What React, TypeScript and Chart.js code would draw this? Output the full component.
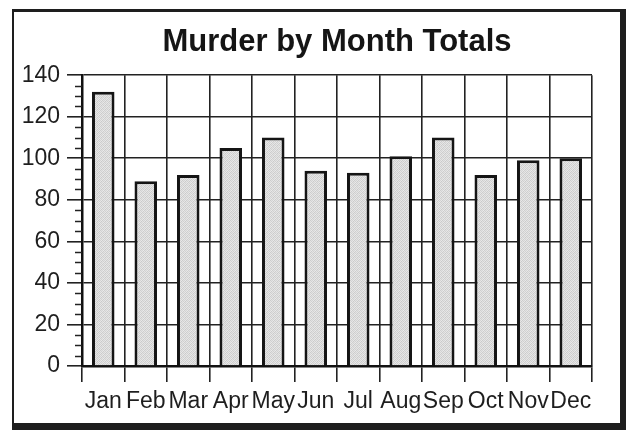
import React, { useEffect, useRef } from "react";
import { Chart, registerables } from "chart.js";

Chart.register(...registerables);

const months = ["Jan", "Feb", "Mar", "Apr", "May", "Jun", "Jul", "Aug", "Sep", "Oct", "Nov", "Dec"];
const murders = [132, 89, 92, 105, 110, 94, 93, 101, 110, 92, 99, 100];
const chartTitle = "Murder by Month Totals";
const yMin = 0;
const yMax = 140;
const yMajorStep = 20;
const yMinorStep = 5;

function makePattern(): CanvasPattern | string {
  const c = document.createElement("canvas");
  c.width = 4;
  c.height = 4;
  const g = c.getContext("2d");
  if (!g) return "#d8d8d8";
  const shades = [
    "#d4d4d4", "#e8e8e8", "#cccccc", "#e2e2e2",
    "#e6e6e6", "#cacaca", "#e4e4e4", "#d0d0d0",
    "#cecece", "#e1e1e1", "#d6d6d6", "#eaeaea",
    "#e5e5e5", "#d1d1d1", "#e7e7e7", "#cdcdcd",
  ];
  for (let i = 0; i < 16; i++) {
    g.fillStyle = shades[i];
    g.fillRect(i % 4, Math.floor(i / 4), 1, 1);
  }
  const p = g.createPattern(c, "repeat");
  return p || "#d8d8d8";
}

const minorTicks = {
  id: "minorTicks",
  afterDraw(chart: any) {
    const y = chart.scales.y;
    const ctx = chart.ctx;
    const left = chart.chartArea.left;
    ctx.save();
    ctx.strokeStyle = "#222";
    ctx.lineWidth = 1.5;
    for (let v = yMin; v <= yMax; v += yMinorStep) {
      if (v % yMajorStep === 0) continue;
      const py = Math.round(y.getPixelForValue(v)) + 0.5;
      ctx.beginPath();
      ctx.moveTo(left - 7, py);
      ctx.lineTo(left, py);
      ctx.stroke();
    }
    ctx.restore();
  },
};

export default function App() {
  const ref = useRef<HTMLCanvasElement | null>(null);

  useEffect(() => {
    if (!ref.current) return;
    const chart = new Chart(ref.current, {
      type: "bar",
      data: {
        labels: months,
        datasets: [
          {
            label: "Murders",
            data: murders,
            backgroundColor: makePattern() as any,
            borderColor: "#151515",
            borderWidth: 3,
            borderSkipped: "start",
            categoryPercentage: 1,
            barPercentage: 0.53,
          },
        ],
      },
      options: {
        responsive: false,
        animation: false,
        layout: { padding: { left: 0, right: 34, top: 0, bottom: 0 } },
        plugins: {
          legend: { display: false },
          tooltip: { enabled: false },
          title: {
            display: true,
            text: chartTitle,
            fullSize: false,
            color: "#151515",
            font: { family: "'Liberation Sans', Arial, sans-serif", size: 31, weight: "bold" },
            padding: { top: 24, bottom: 14 },
          },
        },
        scales: {
          x: {
            offset: true,
            grid: {
              offset: true,
              color: "#222",
              lineWidth: 1.6,
              tickLength: 16,
              tickColor: "#222",
              tickWidth: 1.6,
            },
            border: { color: "#111", width: 2.5 },
            ticks: {
              color: "#1e1e1e",
              padding: 6,
              maxRotation: 0,
              autoSkip: false,
              font: { family: "'Liberation Sans', Arial, sans-serif", size: 23 },
            },
            afterFit: (scale: any) => {
              scale.height = 64;
            },
          },
          y: {
            min: yMin,
            max: yMax,
            grid: {
              color: "#222",
              lineWidth: 1.6,
              tickLength: 15,
              tickColor: "#222",
              tickWidth: 1.6,
            },
            border: { color: "#111", width: 2.5 },
            ticks: {
              stepSize: yMajorStep,
              color: "#1e1e1e",
              padding: 7,
              font: { family: "'Liberation Sans', Arial, sans-serif", size: 23 },
            },
            afterFit: (scale: any) => {
              scale.width = 82;
            },
          },
        },
      },
      plugins: [minorTicks],
    });
    return () => chart.destroy();
  }, []);

  return (
    <div style={{ position: "fixed", left: 0, top: 0, width: 626, height: 430, background: "#fff" }}>
      <div
        style={{
          position: "absolute",
          left: 12,
          top: 9,
          width: 614,
          height: 421,
          boxSizing: "border-box",
          borderStyle: "solid",
          borderColor: "#1e1e1e",
          borderLeftWidth: 2,
          borderTopWidth: 3,
          borderRightWidth: 6,
          borderBottomWidth: 7,
        }}
      />
      <canvas ref={ref} width={626} height={430} style={{ position: "absolute", left: 0, top: 0 }} />
    </div>
  );
}
